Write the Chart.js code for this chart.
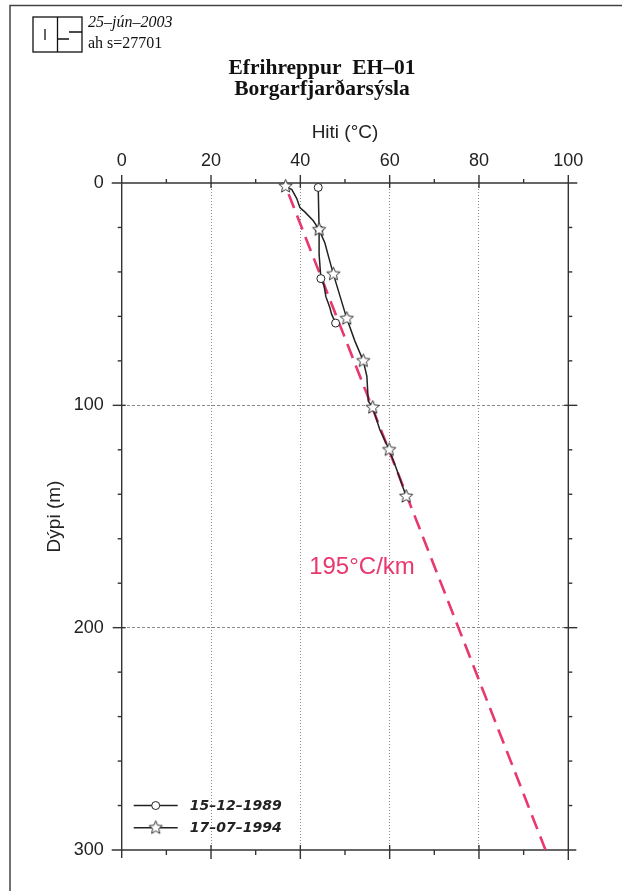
<!DOCTYPE html>
<html>
<head>
<meta charset="utf-8">
<script src="https://cdn.jsdelivr.net/npm/chart.js@4.4.1/dist/chart.umd.min.js"></script>
<style>
  html, body { margin: 0; padding: 0; background: #fff; }
  #rit { display: block; }
</style>
</head>
<body>
<canvas id="rit" width="622" height="891"></canvas>
<script>
// Mælingar 15-12-1989
const dypi1989 = [2, 21, 32, 43, 46, 51, 56, 59, 63];
const hiti1989 = [44.0, 44.2, 44.2, 44.6, 45.3, 45.7, 46.6, 47.0, 47.9];
const merki1989 = [2, 21, 43, 63];

// Mælingar 17-07-1994
const dypi1994 = [1.5, 3, 7, 11, 13, 17, 21, 27, 33, 41, 51, 61, 71, 80, 87, 98, 101, 111, 120, 129, 141];
const hiti1994 = [36.7, 38.1, 39.2, 39.9, 41.0, 42.9, 44.2, 45.5, 46.3, 47.4, 48.9, 50.4, 52.2, 54.1, 54.9, 55.2, 56.2, 57.8, 59.9, 61.6, 63.7];
const merki1994 = [1.5, 21, 41, 61, 80, 101, 120, 141];

// Hitastigull (°C/km) og lína hans
const stigull = 195;
const stigullHiti0 = 36.4;
const stigullDypi = [5, 300];

const hitiTikk = [0, 20, 40, 60, 80, 100];
const dypiTikk = [0, 100, 200, 300];

const RAUTT = '#e8386e';

function stjarna(r) {
    const c = document.createElement('canvas');
    const s = Math.ceil(2 * r + 3);
    c.width = s; c.height = s;
    const g = c.getContext('2d');
    g.beginPath();
    for (let i = 0; i < 10; i++) {
        const rr = i % 2 === 0 ? r : r * 0.45;
        const a = -Math.PI / 2 + i * Math.PI / 5;
        const px = s / 2 + rr * Math.cos(a), py = s / 2 + rr * Math.sin(a);
        if (i === 0) g.moveTo(px, py); else g.lineTo(px, py);
    }
    g.closePath();
    g.fillStyle = '#fff';
    g.fill();
    g.lineWidth = 1;
    g.strokeStyle = '#333';
    g.stroke();
    return c;
}
const stjornuMynd = stjarna(7);

const pktr = (xs, ys) => xs.map((x, i) => ({ x: x, y: ys[i] }));

const umgjord = {
    id: 'umgjord',
    beforeDatasetsDraw(chart) {
        const ctx = chart.ctx;
        const x = chart.scales.x, y = chart.scales.y;
        const L = x.getPixelForValue(0), R = x.getPixelForValue(100);
        const T = y.getPixelForValue(0), B = y.getPixelForValue(300);
        ctx.save();
        ctx.strokeStyle = '#333';
        ctx.lineWidth = 1.4;
        const lina = (x1, y1, x2, y2) => { ctx.beginPath(); ctx.moveTo(x1, y1); ctx.lineTo(x2, y2); ctx.stroke(); };

        // ásar
        lina(L - 10, T, R + 9, T);
        lina(L - 10, B, R + 8, B);
        lina(L, T - 8, L, B + 8);
        lina(R, T - 8, R, B + 10);

        // hitatikk
        for (let v = 10; v < 100; v += 10) {
            const px = x.getPixelForValue(v);
            if (v % 20 === 0) {
                lina(px, T - 8, px, T + 5);
                lina(px, B - 5, px, B + 9);
            } else {
                lina(px, T - 4, px, T);
                lina(px, B, px, B + 5);
            }
        }
        // dýpistikk
        for (let v = 20; v < 300; v += 20) {
            const py = y.getPixelForValue(v);
            if (v % 100 === 0) {
                lina(L - 9, py, L + 4, py);
                lina(R - 4, py, R + 9, py);
            } else {
                lina(L - 4, py, L, py);
                lina(R, py, R + 4, py);
            }
        }
        ctx.restore();
    },
    afterDraw(chart) {
        const ctx = chart.ctx;
        const x = chart.scales.x, y = chart.scales.y;
        ctx.save();
        ctx.strokeStyle = '#444';
        ctx.lineWidth = 1.5;
        // rammi
        ctx.beginPath();
        ctx.moveTo(10, 891); ctx.lineTo(10, 5.5); ctx.lineTo(622, 5.5);
        ctx.stroke();

        // merki
        ctx.strokeStyle = '#111';
        ctx.lineWidth = 1.3;
        ctx.strokeRect(33, 17, 49, 35);
        ctx.beginPath();
        ctx.moveTo(57.5, 17); ctx.lineTo(57.5, 52);
        ctx.moveTo(45, 29); ctx.lineTo(45, 40);
        ctx.moveTo(57.5, 39); ctx.lineTo(69, 39);
        ctx.moveTo(69, 32); ctx.lineTo(82, 32);
        ctx.stroke();

        ctx.fillStyle = '#111';
        ctx.textAlign = 'left';
        ctx.textBaseline = 'alphabetic';
        ctx.font = 'italic 16px "Liberation Serif"';
        ctx.fillText('25–jún–2003', 88, 27);
        ctx.font = '16px "Liberation Serif"';
        ctx.fillText('ah s=27701', 88, 48);

        ctx.textAlign = 'center';
        ctx.font = 'bold 21.5px "Liberation Serif"';
        ctx.fillText('Efrihreppur  EH–01', 322, 74);
        ctx.fillText('Borgarfjarðarsýsla', 322, 95);

        // stigulstexti
        ctx.fillStyle = RAUTT;
        ctx.font = '24px "Liberation Sans"';
        ctx.fillText(stigull + '°C/km', x.getPixelForValue(53.8), y.getPixelForValue(176));

        // skýringar
        const L = x.getPixelForValue(0);
        const skyr = [
            { texti: '15–12–1989', d: 280, tegund: 'hringur' },
            { texti: '17–07–1994', d: 290, tegund: 'stjarna' }
        ];
        ctx.font = 'bold italic 14px "DejaVu Sans"';
        ctx.textAlign = 'left';
        ctx.textBaseline = 'middle';
        skyr.forEach(s => {
            const py = y.getPixelForValue(s.d);
            ctx.strokeStyle = '#222';
            ctx.lineWidth = 1.4;
            ctx.beginPath(); ctx.moveTo(L + 12, py); ctx.lineTo(L + 56, py); ctx.stroke();
            if (s.tegund === 'hringur') {
                ctx.beginPath(); ctx.arc(L + 34, py, 4, 0, Math.PI * 2);
                ctx.fillStyle = '#fff'; ctx.fill(); ctx.lineWidth = 1; ctx.stroke();
            } else {
                ctx.drawImage(stjornuMynd, L + 34 - stjornuMynd.width / 2, py - stjornuMynd.height / 2);
            }
            ctx.fillStyle = '#222';
            ctx.fillText(s.texti, L + 68, py + 1);
        });
        ctx.restore();
    }
};

const merkjaRadius = (merki, r) => (c) => (c.raw && merki.includes(c.raw.y)) ? r : 0;

new Chart(document.getElementById('rit'), {
    type: 'scatter',
    data: {
        datasets: [
            {
                label: '17-07-1994',
                data: pktr(hiti1994, dypi1994),
                showLine: true,
                borderColor: '#222',
                borderWidth: 1.5,
                pointStyle: stjornuMynd,
                pointRadius: merkjaRadius(merki1994, 7),
                pointHoverRadius: 0,
                clip: 10,
                order: 1
            },
            {
                label: '15-12-1989',
                data: pktr(hiti1989, dypi1989),
                showLine: true,
                borderColor: '#222',
                borderWidth: 1.5,
                pointStyle: 'circle',
                backgroundColor: '#fff',
                pointBorderColor: '#222',
                pointBorderWidth: 1,
                pointRadius: merkjaRadius(merki1989, 4),
                pointHoverRadius: 0,
                clip: 10,
                order: 2
            },
            {
                label: 'stigull',
                data: stigullDypi.map(d => ({ x: stigullHiti0 + stigull / 1000 * d, y: d })),
                showLine: true,
                borderColor: RAUTT,
                borderWidth: 2.6,
                borderDash: [15, 8],
                pointRadius: 0,
                order: 3
            }
        ]
    },
    options: {
        responsive: false,
        animation: false,
        events: [],
        layout: { padding: { top: 121.6, left: 43.6, right: 53.7, bottom: 41 } },
        plugins: {
            legend: { display: false },
            tooltip: { enabled: false },
            title: { display: false }
        },
        scales: {
            x: {
                type: 'linear',
                position: 'top',
                min: 0, max: 100,
                afterBuildTicks: s => { s.ticks = hitiTikk.map(v => ({ value: v })); },
                afterFit: s => { s.height = 183 - 121.6; },
                ticks: {
                    padding: 11,
                    color: '#222',
                    font: { family: '"Liberation Sans"', size: 18 }
                },
                grid: {
                    drawTicks: false,
                    lineWidth: 1,
                    color: c => (c.tick && (c.tick.value === 0 || c.tick.value === 100)) ? 'rgba(0,0,0,0)' : '#8a8a8a'
                },
                border: { display: false, dash: [1, 2] },
                title: {
                    display: true,
                    text: 'Hiti (°C)',
                    color: '#222',
                    padding: 0,
                    font: { family: '"Liberation Sans"', size: 19 }
                }
            },
            y: {
                type: 'linear',
                reverse: true,
                min: 0, max: 300,
                afterBuildTicks: s => { s.ticks = dypiTikk.map(v => ({ value: v })); },
                afterFit: s => { s.width = 121.7 - 43.6; },
                ticks: {
                    padding: 18,
                    color: '#222',
                    font: { family: '"Liberation Sans"', size: 18 }
                },
                grid: {
                    drawTicks: false,
                    lineWidth: 1,
                    color: c => (c.tick && (c.tick.value === 0 || c.tick.value === 300)) ? 'rgba(0,0,0,0)' : '#8a8a8a'
                },
                border: { display: false, dash: [3, 2] },
                title: {
                    display: true,
                    text: 'Dýpi (m)',
                    color: '#222',
                    padding: 0,
                    font: { family: '"Liberation Sans"', size: 19 }
                }
            }
        }
    },
    plugins: [umgjord]
});
</script>
</body>
</html>
